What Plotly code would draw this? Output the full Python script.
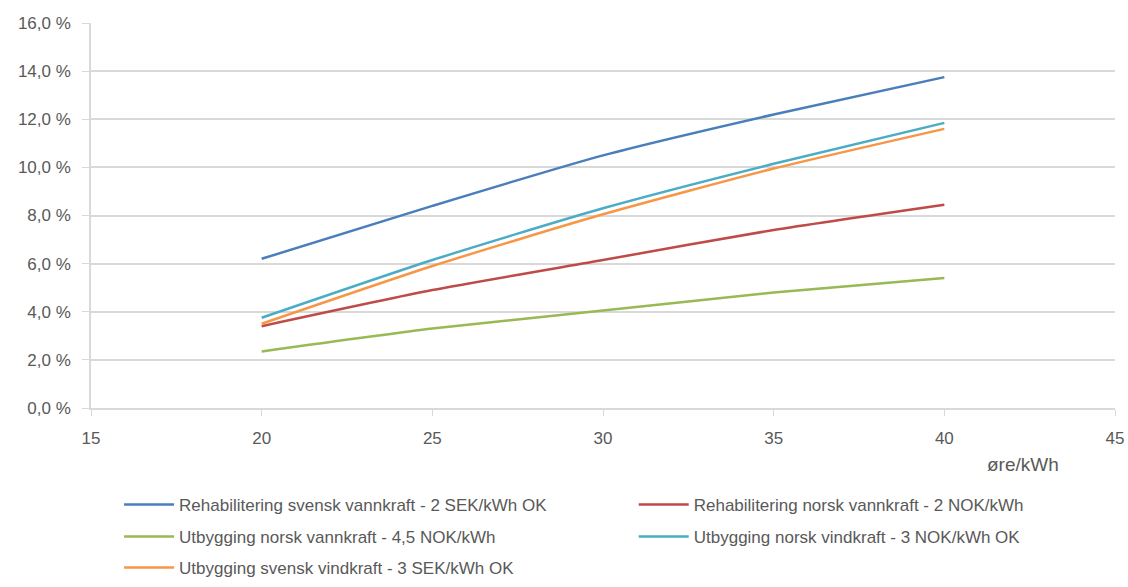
import plotly.graph_objects as go

x_vals = [20, 25, 30, 35, 40]
series_names = [
    "Rehabilitering svensk vannkraft - 2 SEK/kWh OK",
    "Rehabilitering norsk vannkraft - 2 NOK/kWh",
    "Utbygging norsk vannkraft - 4,5 NOK/kWh",
    "Utbygging norsk vindkraft - 3 NOK/kWh OK",
    "Utbygging svensk vindkraft - 3 SEK/kWh OK",
]
blue_vals = [6.2, 8.4, 10.5, 12.2, 13.75]
red_vals = [3.4, 4.9, 6.15, 7.4, 8.45]
green_vals = [2.35, 3.3, 4.05, 4.8, 5.4]
cyan_vals = [3.75, 6.15, 8.3, 10.15, 11.85]
orange_vals = [3.5, 5.9, 8.05, 9.95, 11.6]
series_values = [blue_vals, red_vals, green_vals, cyan_vals, orange_vals]
colors = ["#4A7EBB", "#BE4B48", "#98B954", "#4BACC6", "#F79646"]
legend_ids = ["legend", "legend2", "legend3", "legend4", "legend5"]

y_ticks = [0, 2, 4, 6, 8, 10, 12, 14, 16]
y_tick_labels = ["0,0 %", "2,0 %", "4,0 %", "6,0 %", "8,0 %", "10,0 %", "12,0 %", "14,0 %", "16,0 %"]
x_ticks = [15, 20, 25, 30, 35, 40, 45]

fig = go.Figure()
for name, vals, c, lg in zip(series_names, series_values, colors, legend_ids):
    fig.add_trace(go.Scatter(x=x_vals, y=vals, mode="lines", name=name, legend=lg,
                             line=dict(color=c, width=2.5, shape="spline", smoothing=0.6)))

txt = "#595959"
font = dict(family="Liberation Sans, Arial, sans-serif", size=16, color=txt)


def leg(xl, yc):
    return dict(orientation="h", x=xl, xanchor="left", y=yc, yanchor="middle",
                itemwidth=50, font=dict(size=17, color=txt), bgcolor="rgba(0,0,0,0)")


col1, col2 = 0.0274, 0.53
row1, row2, row3 = -0.252, -0.335, -0.4156

fig.update_layout(
    width=1128, height=587,
    margin=dict(l=91, r=13, t=23, b=179, autoexpand=False),
    paper_bgcolor="white", plot_bgcolor="white",
    font=font,
    showlegend=True,
    legend=leg(col1, row1),
    legend2=leg(col2, row1),
    legend3=leg(col1, row2),
    legend4=leg(col2, row2),
    legend5=leg(col1, row3),
    xaxis=dict(range=[15, 45], tickvals=x_ticks, showgrid=False, zeroline=False,
               showline=True, linecolor="#D9D9D9", linewidth=1.5, ticks="outside",
               ticklen=6, tickcolor="#D9D9D9", ticklabelstandoff=8, automargin=False,
               tickfont=dict(size=17, color=txt)),
    yaxis=dict(range=[0, 16], tickvals=y_ticks, ticktext=y_tick_labels, showgrid=True,
               gridcolor="#D9D9D9", gridwidth=1.5, zeroline=False, showline=True,
               linecolor="#D9D9D9", linewidth=1.5, ticks="outside", ticklen=7,
               tickcolor="#D9D9D9", ticklabelstandoff=8, automargin=False,
               tickfont=dict(size=17, color=txt)),
    annotations=[dict(text="øre/kWh", xref="paper", yref="paper", x=0.91, y=-0.148,
                      xanchor="center", yanchor="middle", showarrow=False,
                      font=dict(size=19, color=txt))],
)
fig.write_html("out.html", config={"displayModeBar": False},
               post_script="document.body.style.margin='0';document.body.style.overflow='hidden';")
